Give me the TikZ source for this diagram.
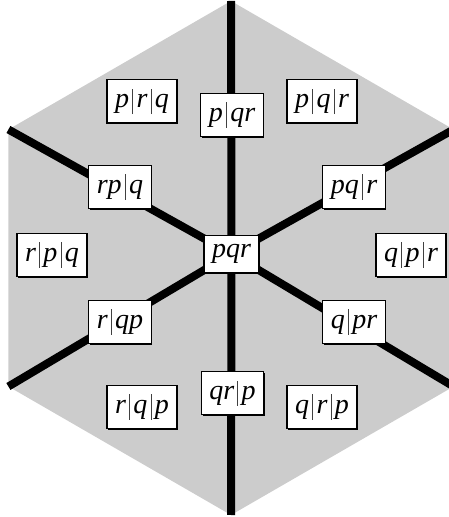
\documentclass[tikz,border=0pt]{standalone}
\usepackage{fontspec}
\setmainfont{Liberation Serif}
\usetikzlibrary{backgrounds,shadows,calc}
\newcommand\vb{\hspace{3.2pt}\textcolor{black!75}{\rule[-0.22em]{1.1pt}{0.9em}}\hspace{3.2pt}}
\tikzset{
  part/.style={draw=black, line width=1.2pt, fill=white, inner xsep=8pt, inner ysep=9pt,
    font=\fontsize{28}{32}\selectfont\itshape,
    drop shadow={shadow xshift=1.2pt, shadow yshift=-1.2pt, fill=black, opacity=1}},
  wall/.style={line width=8pt, line cap=butt, black},
}
\begin{document}
\begin{tikzpicture}[x=1pt,y=1pt]
\useasboundingbox (0,0) rectangle (449,517);
\coordinate (c) at (231,259);
\coordinate (vT) at ($(c)+(90:257)$);
\coordinate (vUL) at ($(c)+(150:257)$);
\coordinate (vLL) at ($(c)+(210:257)$);
\coordinate (vB) at ($(c)+(270:257)$);
\coordinate (vLR) at ($(c)+(330:257)$);
\coordinate (vUR) at ($(c)+(30:257)$);

\node[part] (prq) at (142,415.5) {p\vb r\vb q};
\node[part] (pqrA) at (232,402) {p\vb qr};
\node[part] (pqr3) at (322,415.5) {p\vb q\vb r};
\node[part] (rpq2) at (120,330) {rp\vb q};
\node[part] (pqr2) at (354,330) {pq\vb r};
\node[part] (rpq) at (52,262) {r\vb p\vb q};
\node[part] (pqr) at (231.5,263.2) {pqr};
\node[part] (qpr) at (411,262) {q\vb p\vb r};
\node[part] (rqp2) at (120,195) {r\vb qp};
\node[part] (qpr2) at (354,195) {q\vb pr};
\node[part] (qrp2) at (232.5,123.7) {qr\vb p};
\node[part] (rqp) at (142,110) {r\vb q\vb p};
\node[part] (qrp) at (322,110) {q\vb r\vb p};

\begin{scope}[on background layer]
\begin{scope}
\clip (0,0) rectangle (449,517);
\fill[black!20] (vT) -- (vUL) -- (vLL) -- (vB) -- (vLR) -- (vUR) -- cycle;
\draw[wall] (vT) -- (pqr.center) -- (vB);
\draw[wall] (vUL) -- (pqr.center) -- (vLR);
\draw[wall] (vLL) -- (pqr.center) -- (vUR);
\end{scope}
\end{scope}
\end{tikzpicture}
\end{document}
